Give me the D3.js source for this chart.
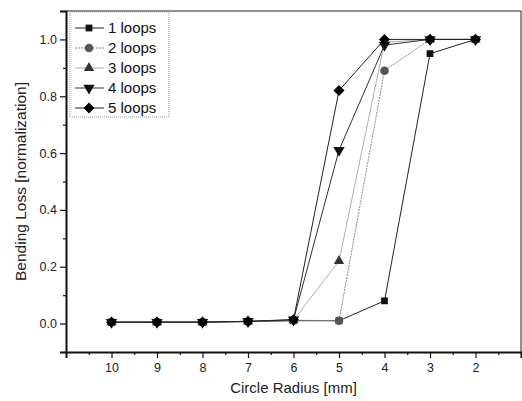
<!DOCTYPE html>
<html>
<head>
<meta charset="utf-8">
<script src="https://cdn.jsdelivr.net/npm/d3@7"></script>
<style>
  body { margin: 0; background: #fff; }
  svg { font-family: "Liberation Sans", Arial, sans-serif; }
</style>
</head>
<body>
<div id="chart"></div>
<script>
var radius = [10, 9, 8, 7, 6, 5, 4, 3, 2];
var loops1 = [0.005, 0.005, 0.005, 0.007, 0.01, 0.01, 0.08, 0.95, 1.0];
var loops2 = [0.005, 0.005, 0.005, 0.007, 0.012, 0.01, 0.89, 1.0, 1.0];
var loops3 = [0.005, 0.005, 0.005, 0.007, 0.012, 0.22, 0.99, 1.0, 1.0];
var loops4 = [0.005, 0.005, 0.005, 0.008, 0.013, 0.61, 0.98, 1.0, 1.0];
var loops5 = [0.005, 0.005, 0.005, 0.008, 0.014, 0.82, 1.0, 1.0, 1.0];
var seriesNames = ["1 loops", "2 loops", "3 loops", "4 loops", "5 loops"];
var xTicks = [10, 9, 8, 7, 6, 5, 4, 3, 2];
var yTicks = [0.0, 0.2, 0.4, 0.6, 0.8, 1.0];

function init() {
    var w = 522;
    var h = 401;
    var margin = { top: 11, right: 1, bottom: 49, left: 66 };
    var innerWidth = w - margin.left - margin.right;
    var innerHeight = h - margin.top - margin.bottom;

    var xScale = d3.scaleLinear().domain([11, 1]).range([0, innerWidth]);
    var yScale = d3.scaleLinear().domain([-0.1, 1.1]).range([innerHeight, 0]);

    var allSeries = [loops1, loops2, loops3, loops4, loops5];
    var styles = [
        { stroke: "#222", dash: null, fill: "#111", sym: d3.symbolSquare, size: 46, rot: 0, sw: 1 },
        { stroke: "#888", dash: "2,1", fill: "#555", sym: d3.symbolCircle, size: 58, rot: 0, sw: 1 },
        { stroke: "#999", dash: null, fill: "#333", sym: d3.symbolTriangle, size: 46, rot: 0, sw: 0.8 },
        { stroke: "#333", dash: null, fill: "#111", sym: d3.symbolTriangle, size: 56, rot: 180, sw: 1 },
        { stroke: "#222", dash: null, fill: "#000", sym: d3.symbolSquare, size: 60, rot: 45, sw: 1 }
    ];

    var svg = d3.select("#chart").append("svg")
        .attr("width", w).attr("height", h);
    var g = svg.append("g")
        .attr("transform", "translate(" + margin.left + "," + margin.top + ")");

    // frame
    g.append("line").attr("x1", 0).attr("x2", innerWidth).attr("y1", 0).attr("y2", 0)
        .attr("stroke", "#222").attr("stroke-width", 1);
    g.append("line").attr("x1", innerWidth).attr("x2", innerWidth).attr("y1", 0).attr("y2", innerHeight)
        .attr("stroke", "#222").attr("stroke-width", 1);

    // minor ticks
    var xMinor = d3.range(1.5, 11, 1);
    var yMinor = [-0.1, 0.1, 0.3, 0.5, 0.7, 0.9, 1.1];

    g.append("g")
        .attr("transform", "translate(0," + innerHeight + ")")
        .call(d3.axisBottom(xScale).tickValues(xTicks).tickSize(6).tickPadding(5)
            .tickFormat(d3.format("d")));
    g.append("g")
        .attr("transform", "translate(0," + innerHeight + ")")
        .call(d3.axisBottom(xScale).tickValues(xMinor).tickSize(3).tickFormat(""))
        .select(".domain").remove();

    g.append("g")
        .call(d3.axisLeft(yScale).tickValues(yTicks).tickSize(6).tickPadding(3)
            .tickFormat(d3.format(".1f")));
    g.append("g")
        .call(d3.axisLeft(yScale).tickValues(yMinor).tickSize(3).tickFormat(""))
        .select(".domain").remove();

    g.selectAll(".domain").attr("stroke", "#111").attr("stroke-width", 2);
    g.selectAll(".tick line").attr("stroke", "#111").attr("stroke-width", 1.2);
    g.selectAll(".tick text").attr("fill", "#222").style("font-size", "12.5px");

    // lines and markers
    var line = d3.line()
        .x(function(d, i) { return xScale(radius[i]); })
        .y(function(d) { return yScale(d); });

    allSeries.forEach(function(s, k) {
        var st = styles[k];
        g.append("path")
            .datum(s)
            .attr("d", line)
            .attr("fill", "none")
            .attr("stroke", st.stroke)
            .attr("stroke-width", st.sw)
            .attr("stroke-dasharray", st.dash);
    });
    allSeries.forEach(function(s, k) {
        var st = styles[k];
        g.selectAll(".m" + k)
            .data(s)
            .enter()
            .append("path")
            .attr("d", d3.symbol().type(st.sym).size(st.size))
            .attr("transform", function(d, i) {
                return "translate(" + xScale(radius[i]) + "," + yScale(d) + ") rotate(" + st.rot + ")";
            })
            .attr("fill", st.fill);
    });

    // legend
    var leg = svg.append("g").attr("transform", "translate(70,12)");
    leg.append("rect")
        .attr("x", 0).attr("y", 0).attr("width", 99).attr("height", 105)
        .attr("fill", "#fff").attr("stroke", "#999").attr("stroke-width", 1)
        .attr("stroke-dasharray", "1,1");
    seriesNames.forEach(function(name, k) {
        var st = styles[k];
        var yy = 16 + k * 20;
        leg.append("line")
            .attr("x1", 5).attr("x2", 34).attr("y1", yy).attr("y2", yy)
            .attr("stroke", st.stroke).attr("stroke-width", st.sw)
            .attr("stroke-dasharray", st.dash);
        leg.append("path")
            .attr("d", d3.symbol().type(st.sym).size(st.size))
            .attr("transform", "translate(19," + yy + ") rotate(" + st.rot + ")")
            .attr("fill", st.fill);
        leg.append("text")
            .attr("x", 38).attr("y", yy + 5)
            .style("font-size", "15px")
            .attr("fill", "#111")
            .text(name);
    });

    // axis titles
    svg.append("text")
        .attr("x", margin.left + xScale(6)).attr("y", 393)
        .attr("text-anchor", "middle")
        .style("font-size", "15px")
        .attr("fill", "#222")
        .text("Circle Radius [mm]");
    svg.append("text")
        .attr("transform", "translate(26," + (margin.top + yScale(0.5)) + ") rotate(-90)")
        .attr("text-anchor", "middle")
        .style("font-size", "15.5px")
        .attr("fill", "#222")
        .text("Bending Loss [normalization]");
}

window.onload = init;
</script>
</body>
</html>
